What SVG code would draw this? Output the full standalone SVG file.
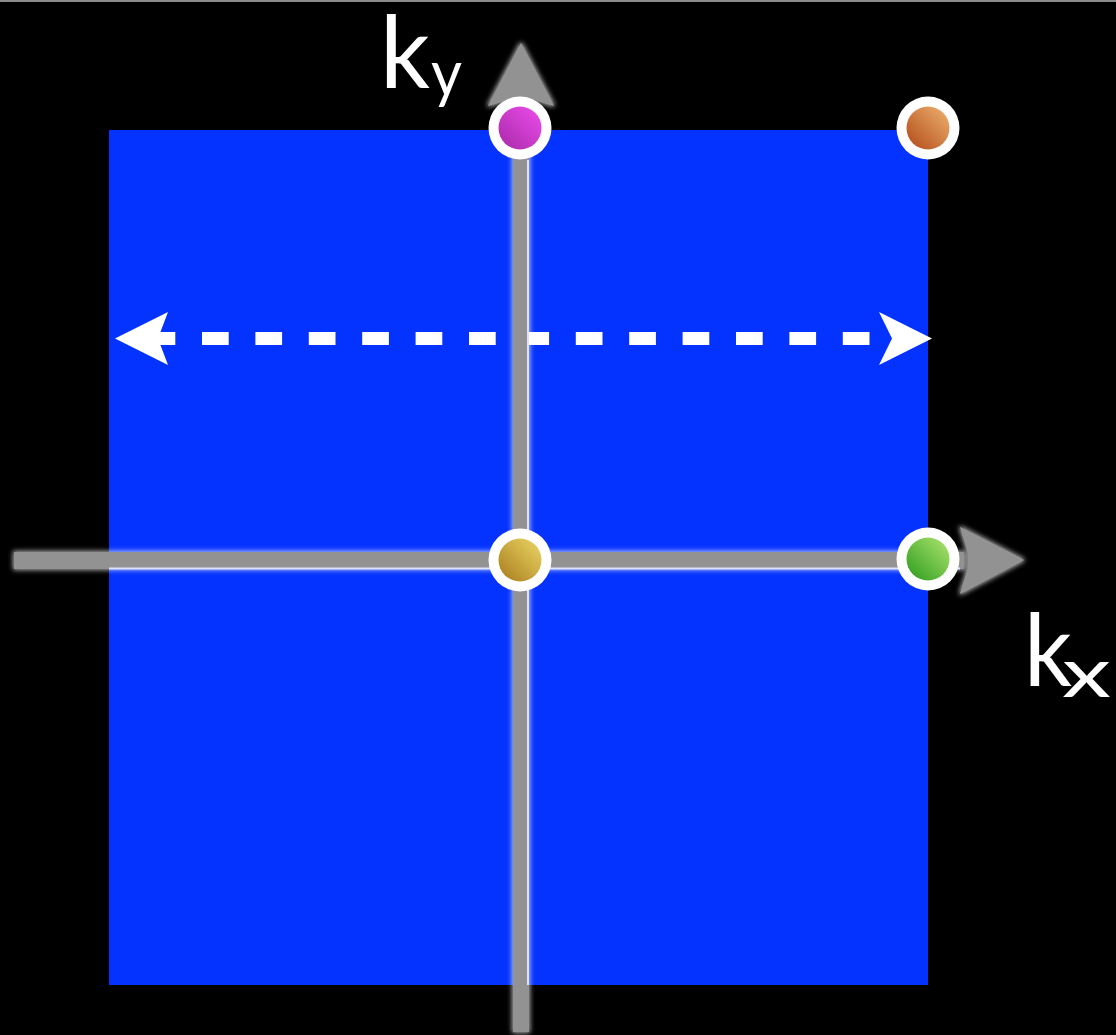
<svg xmlns="http://www.w3.org/2000/svg" width="1116" height="1035" viewBox="0 0 1116 1035">
  <defs>
    <style>
      .lbl { font-family: "Lato", "Liberation Sans", sans-serif; fill: #ffffff; }
      .ring { fill: #ffffff; }
      .axis { fill: #929292; }
      .hl { stroke: #dde3ff; stroke-width: 2; }
      .dash { stroke: #ffffff; stroke-width: 13; stroke-dasharray: 26.7 26.7; fill: none; }
      .head { fill: #ffffff; }
    </style>
    <filter id="glow" x="-10%" y="-10%" width="120%" height="120%">
      <feMorphology in="SourceAlpha" operator="dilate" radius="1" result="d"/>
      <feGaussianBlur in="d" stdDeviation="2.5" result="b"/>
      <feFlood flood-color="#ffffff" flood-opacity="0.7"/>
      <feComposite in2="b" operator="in" result="g"/>
      <feMerge><feMergeNode in="g"/><feMergeNode in="SourceGraphic"/></feMerge>
    </filter>
    <linearGradient id="gMag" x1="1" y1="0" x2="0" y2="1">
      <stop offset="0" stop-color="#ec4cec"/>
      <stop offset="1" stop-color="#a82aa8"/>
    </linearGradient>
    <linearGradient id="gOra" x1="1" y1="0" x2="0" y2="1">
      <stop offset="0" stop-color="#f0b470"/>
      <stop offset="1" stop-color="#b04818"/>
    </linearGradient>
    <linearGradient id="gGold" x1="1" y1="0" x2="0" y2="1">
      <stop offset="0" stop-color="#ecd866"/>
      <stop offset="1" stop-color="#a87a1c"/>
    </linearGradient>
    <linearGradient id="gGrn" x1="1" y1="0" x2="0" y2="1">
      <stop offset="0" stop-color="#b0e670"/>
      <stop offset="1" stop-color="#2a9a1c"/>
    </linearGradient>
  </defs>

  <rect x="0" y="0" width="1116" height="1035" fill="#000000"/>
  <rect x="0" y="0" width="1116" height="2" fill="#8a8a8a"/>

  <g id="region">
    <rect x="109" y="130" width="819" height="855" fill="#0433ff"/>
  </g>

  <g id="dashed-arrow">
    <line class="dash" x1="148.6" y1="338.5" x2="869.8" y2="338.5"/>
    <polygon class="head" points="115,338.5 168,312 158,338.5 168,365"/>
    <polygon class="head" points="932,338.5 879,312 892,338.5 879,365"/>
  </g>

  <g id="axes" filter="url(#glow)">
    <rect class="axis" x="513" y="90" width="16" height="942"/>
    <polygon class="axis" points="521,43 554,106 529,98 513,98 488,106"/>
    <rect class="axis" x="14" y="552" width="950" height="17"/>
    <polygon class="axis" points="1024,560 960,527 968,552 968,569 960,594"/>
  </g>
  <g id="highlights">
    <line class="hl" x1="528" y1="160" x2="528" y2="985"/>
    <line class="hl" x1="109" y1="568.5" x2="960" y2="568.5"/>
  </g>

  <g id="label-ky">
    <text class="lbl" x="380" y="88" font-size="100" textLength="50" lengthAdjust="spacingAndGlyphs">k</text>
    <text class="lbl" x="431" y="96" font-size="66" textLength="31" lengthAdjust="spacingAndGlyphs">y</text>
  </g>
  <g id="label-kx">
    <text class="lbl" x="1024" y="686" font-size="100" textLength="48" lengthAdjust="spacingAndGlyphs">k</text>
    <text class="lbl" x="1062" y="697" font-size="70" textLength="49" lengthAdjust="spacingAndGlyphs">x</text>
  </g>

  <g id="point-magenta">
    <circle class="ring" cx="520" cy="128" r="31.5"/>
    <circle cx="520" cy="128" r="21.5" fill="url(#gMag)"/>
  </g>
  <g id="point-orange">
    <circle class="ring" cx="928" cy="128" r="31.5"/>
    <circle cx="928" cy="128" r="21.5" fill="url(#gOra)"/>
  </g>
  <g id="point-gold">
    <circle class="ring" cx="520" cy="560" r="31.5"/>
    <circle cx="520" cy="560" r="21.5" fill="url(#gGold)"/>
  </g>
  <g id="point-green">
    <circle class="ring" cx="928" cy="559" r="31.5"/>
    <circle cx="928" cy="559" r="21.5" fill="url(#gGrn)"/>
  </g>
</svg>
